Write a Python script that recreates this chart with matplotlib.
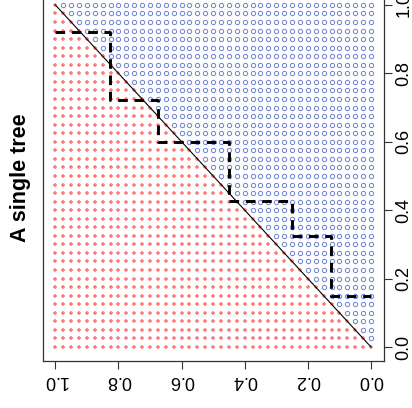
import numpy as np
import matplotlib
matplotlib.use("Agg")
import matplotlib.pyplot as plt

# grid of evaluation points (step 0.025 on both axes)
grid = np.linspace(0.0, 1.0, 41)

# staircase boundary of the single tree
step_x = [1.0, 0.826, 0.826, 0.676, 0.676, 0.451, 0.451, 0.251, 0.251, 0.127, 0.127, 0.0]
step_y = [0.922, 0.922, 0.723, 0.723, 0.599, 0.599, 0.426, 0.426, 0.325, 0.325, 0.150, 0.150]

# true boundary
diag_x = [1.0, 0.0]
diag_y = [1.0, 0.0]

ticks = [0.0, 0.2, 0.4, 0.6, 0.8, 1.0]
tick_labels = ["0.0", "0.2", "0.4", "0.6", "0.8", "1.0"]
title = "A single tree"

plt.rcParams['font.family'] = ['Liberation Sans', 'DejaVu Sans']

gx, gy = np.meshgrid(grid, grid)
gx = gx.ravel()
gy = gy.ravel()
red = gx >= gy - 1e-9

fig = plt.figure(figsize=(4.12, 4.08), dpi=100)
ax = fig.add_axes([0.1036, 0.116, 0.8275, 0.9055])

ax.plot(gx[red], gy[red], linestyle='none', marker='+', markersize=2.4,
        markeredgewidth=1.1, color='#ff7a7a')
ax.plot(gx[~red], gy[~red], linestyle='none', marker='o', markersize=3.1,
        markeredgewidth=0.75, markerfacecolor='none', markeredgecolor='#7388cf')

ax.plot(diag_x, diag_y, color='black', linewidth=0.8)
ax.plot(step_x, step_y, color='black', linewidth=2.1, linestyle=(0, (3.3, 2.3)),
        solid_joinstyle='round', dash_joinstyle='round', dash_capstyle='butt')

ax.set_xlim(1.04, -0.04)
ax.set_ylim(-0.04, 1.04)

ax.set_xticks(ticks)
ax.set_xticklabels(tick_labels, rotation=180, fontsize=13)
ax.set_yticks(ticks)
ax.set_yticklabels(tick_labels, rotation=90, fontsize=13, va='center')
ax.yaxis.tick_right()
ax.tick_params(axis='both', direction='out', length=5.5, width=0.8, color='#333333')
ax.tick_params(axis='x', pad=3)
ax.tick_params(axis='y', pad=3)
for s in ax.spines.values():
    s.set_linewidth(0.9)
    s.set_color('#333333')

fig.text(21 / 412, 1 - 178 / 408, title, rotation=90, ha='center', va='center',
         fontsize=15.5, fontweight='bold')

fig.savefig("out.png", dpi=100)
